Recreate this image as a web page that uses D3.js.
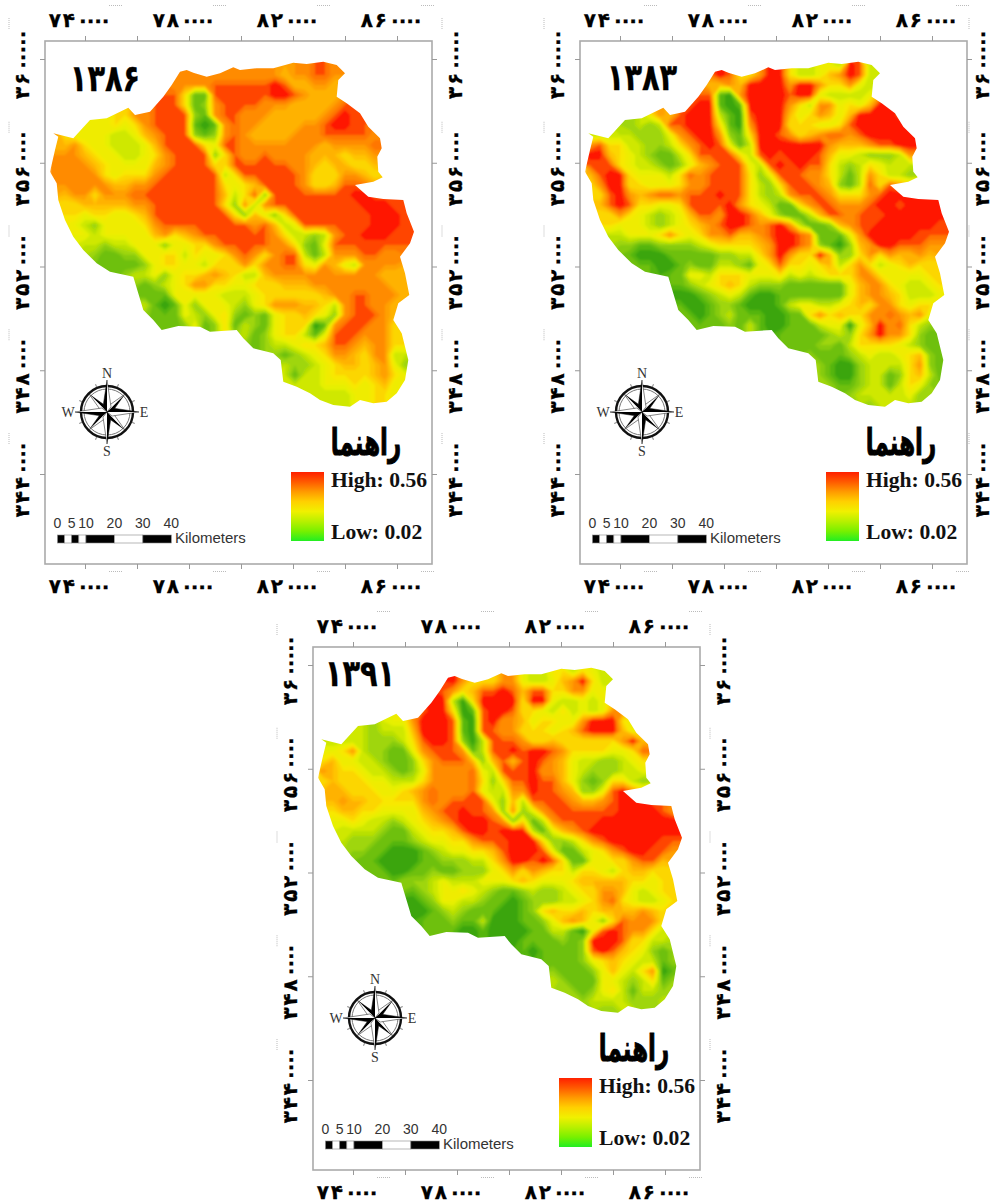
<!DOCTYPE html>
<html lang="en">
<head>
<meta charset="utf-8">
<title>Basin maps 1383 1386 1391</title>
<script src="https://d3js.org/d3.v7.min.js"></script>
<style>
    html, body { margin: 0; padding: 0; background: #fff; }
    svg { display: block; overflow: hidden; }
    .num { font-family: 'DejaVu Sans', sans-serif; font-weight: bold; fill: #000; stroke: #000; stroke-width: 0.3px; }
    .legendText { font-family: 'Liberation Serif', serif; font-weight: bold; font-size: 21.6px; fill: #111; }
    .compassText { font-family: 'Liberation Serif', serif; font-size: 14px; fill: #333; }
    .scaleText { font-family: 'Liberation Sans', sans-serif; font-size: 14px; fill: #333; }
    .tick line { stroke: #999; }
</style>
</head>
<body>
<svg id="maps" width="995" height="1202"></svg>
<script>
    // Axis values and labels (same on all three maps)
    const xTicks = [740000, 760000, 780000, 800000, 820000, 840000, 860000];
    const xLabelValues = [740000, 780000, 820000, 860000];
    const xLabels = ['۷۴۰۰۰۰', '۷۸۰۰۰۰', '۸۲۰۰۰۰', '۸۶۰۰۰۰'];
    const yTicks = [3600000, 3560000, 3520000, 3480000, 3440000];
    const yLabels = ['۳۶۰۰۰۰۰', '۳۵۶۰۰۰۰', '۳۵۲۰۰۰۰', '۳۴۸۰۰۰۰', '۳۴۴۰۰۰۰'];

    // Legend
    const legendTitle = 'راهنما';
    const legendHigh = 'High: 0.56';
    const legendLow = 'Low: 0.02';
    const legendStops = ['#ff2000', '#ff5a00', '#ff9a00', '#ffd000', '#f0f000', '#b8f000', '#78f000', '#22ee22'];

    // Scale bar, km
    const barKm = [0, 2.5, 5, 7.5, 10, 20, 30, 40];
    const barLabels = [0, 5, 10, 20, 30, 40];

    // Raster colour ramp, class 0 (low) to class 9 (high)
    const rampColors = ['#3aa510', '#55b50e', '#86cb0c', '#b8e006', '#e6f000', '#f8e800',
                        '#ffc400', '#ffa000', '#ff7600', '#ff1400'];

    // Which grid columns of every grid row carry a value
    const basinRows = [
        [24,28],[13,28],[12,28],[11,28],[10,30],[7,31],[4,31],[0,32],[0,32],[0,32],[0,32],[0,32],
        [0,30],[1,33],[1,35],[1,35],[2,35],[2,35],[3,35],[4,34],[5,34],[8,35],[9,35],[9,35],
        [9,34],[10,34],[11,34],[19,34],[20,35],[22,35],[23,35],[23,35],[24,34],[26,34],[28,33]
    ];

    // Basin border in grid units (column, row)
    const basinBorder = [
        [13,1.17],[13.67,1],[14.33,1.27],[15.67,1.67],[17,1.33],[18.33,0.73],[19,1],[20.67,0.83],[22.33,0.83],
        [24.33,0.27],[25.67,0.4],[27.33,0.17],[28.67,0.5],[29.5,1.33],[28.83,2],[28.67,3.67],[29.67,4.33],
        [31,5.33],[31.83,6.67],[33,7.83],[33.17,8.83],[32.73,9.67],[32.83,11.17],[33.27,11.73],[32.33,12.17],
        [30.5,12.5],[31.83,13.67],[33.33,13.9],[35.33,14],[35.67,15.33],[36.4,17.17],[36,18.33],[35,19.67],
        [35.5,21.33],[35.93,23.5],[34.83,24.33],[34.33,26],[35.17,27.33],[35.83,30],[35.5,32],[34.67,33.33],
        [33.67,34.17],[32.33,34.33],[31,34],[30,34.67],[28.33,34.5],[27,34],[26,33.33],[24.67,32.67],
        [23.33,32.17],[23.07,30],[22.33,29.33],[20.33,28.83],[19.33,27.83],[18.67,27],[16,27.17],[15,26.67],
        [12.83,26.6],[11.17,27],[10.33,26],[9.33,25],[8.33,21.67],[6,21.17],[4.67,20.33],[3.33,19],
        [2.33,17.67],[1.5,16],[0.83,14],[0.67,12.33],[0,11.17],[0.5,9],[0.83,7.67],[0.33,7.33],[2.33,7.83],
        [4,6],[5.67,5.83],[7.83,4.77],[8.5,5.5],[10,5.17],[11.33,3.67],[12.17,2.5]
    ];

    // Raster classes, one string per grid row
    const values1386 = [
        "77887",
        "7777777777677887",
        "77778888889866776",
        "885118888889987666",
        "888512788887776666788",
        "5778888217887776666678988",
        "4454578888101787766667789988",
        "754444334678882127876666777888887",
        "667544333468888548877777777677778",
        "777654433457888825877877776665667",
        "777765444467888855888888776566556",
        "777775455578888883588888875557765",
        "7777776677888888854568888755688",
        "677577788888888863582888888889988",
        "55666667788888885273788888888899988",
        "55455445688888888526425888888889998",
        "4324444578888888887863488888889998",
        "4434444467567888888875332378899988",
        "332334442445578888877521488888888",
        "2112244553544578757883137778877",
        "111124554435557577885476437777",
        "3342455676533677777777777666",
        "123457755445556667777777766",
        "111444443334555555677887776",
        "31014244432457776653788776",
        "1114324521214556542788876",
        "112412513214555017888775",
        "3124553148887775",
        "1233455688767755",
        "21234577657733",
        "3223456656742",
        "3133455556754",
        "33344454564",
        "333344554",
        "334455"
    ];
    const values1383 = [
        "43983",
        "9855799533467983",
        "66769999799755743",
        "881079999899433334",
        "899101999975377454699",
        "7689993108999645764699998",
        "2323889995107999555445899999",
        "333332224789972159987567887899999",
        "785533223578984139999999766678899",
        "996543211358888538989998644322237",
        "888543321246788843898988532354333",
        "689954443587888852488877531375332",
        "5799554445778888532588876213858",
        "589767887888988532378887555789999",
        "68985544588889754311578877789989999",
        "55754323468879986421136887888999999",
        "5444323456789987897311267889999998",
        "3344457545778667899871114799999888",
        "221122223455556799872102679988877",
        "1000111112233579755962257576676",
        "110012113321458554563575345655",
        "1144355544453434555775444455",
        "123456532221111114677543345",
        "001234310011111114677653334",
        "10012210001344334565775455",
        "1012311100115756557787674",
        "111213100111344046978532",
        "1111123257977521",
        "1112213555543211",
        "21112343345621",
        "2100233335721",
        "2100233125631",
        "21123313542",
        "233333422",
        "233332"
    ];
    const values1391 = [
        "53543",
        "9755577433467953",
        "87568898688557744",
        "993059999599433434",
        "899501899855435343477",
        "4479998108977645544799954",
        "3233369998108877555456899964",
        "333332223589982038887556555555796",
        "445732211478887138898998755554458",
        "564433211257888626868987643322345",
        "765543321247777843888977643222334",
        "565554433357777852588988642125532",
        "6665554456787778433779887622489",
        "676655555787888842638888766789998",
        "56655444467889887272478888888999987",
        "44543323456789998725137888899999999",
        "3333211345568998999314678999999999",
        "3222111234455788899952235789999988",
        "221100012344556899984113457899887",
        "1100001122233579989851144557886",
        "110011211222457576553554356655",
        "2223433344456544456666655455",
        "123445432112322345577643455",
        "012443321101222334578543345",
        "00123211100125655656666765",
        "1112113000112467642587775",
        "111001000011331048987753",
        "0111121299985533",
        "1011112898654212",
        "11112456543312",
        "2111246435701",
        "3211144323512",
        "22124531332",
        "233332223",
        "223322"
    ];

    // Layout of one map panel, other panels are only shifted
    const PANEL = { left: 45, top: 41, right: 432, bottom: 564 };
    const CELL = 10, COLS = 37, ROWS = 35;
    const GRID_X = 50, GRID_Y = 60;
    const DIGIT_STEP = 14, ZERO_STEP = 7.6;

    const svg = d3.select('#maps');
    const defs = svg.append('defs');

    const x = d3.scaleLinear().domain([740000, 860000]).range([85, 397]);
    const y = d3.scaleLinear().domain([3600000, 3440000]).range([59, 474]);
    const barX = d3.scaleLinear().domain([0, 40]).range([57.5, 171.3]);
    const colX = d3.scaleLinear().domain([0, COLS]).range([GRID_X, GRID_X + COLS * CELL]);
    const rowY = d3.scaleLinear().domain([0, ROWS]).range([GRID_Y, GRID_Y + ROWS * CELL]);
    const color = d3.scaleLinear().domain(d3.range(10)).range(rampColors);

    const grad = defs.append('linearGradient').attr('id', 'ramp')
        .attr('x1', 0).attr('y1', 0).attr('x2', 0).attr('y2', 1);
    legendStops.forEach((c, i) => {
        grad.append('stop').attr('offset', i / (legendStops.length - 1)).attr('stop-color', c);
    });

    // border clip shared by all three rasters
    defs.append('clipPath').attr('id', 'basin').append('path')
        .attr('d', d3.line().x(d => colX(d[0])).y(d => rowY(d[1])).curve(d3.curveLinearClosed)(basinBorder));

    // slight softening, the source raster is a blurry scan
    defs.append('filter').attr('id', 'soft')
        .attr('filterUnits', 'userSpaceOnUse')
        .attr('x', 0).attr('y', 0).attr('width', 1000).attr('height', 1000)
        .append('feGaussianBlur').attr('stdDeviation', 1.2);

    // rows of digit strings to a flat grid, outside the basin is NaN
    function toGrid(values) {
        const grid = new Array(COLS * ROWS).fill(NaN);
        basinRows.forEach((r, j) => {
            const s = values[j];
            for (let i = r[0]; i <= r[1]; i++) {
                const k = Math.min(i - r[0], s.length - 1);
                grid[j * COLS + i] = +s[k];
            }
        });
        return grid;
    }

    // spread inside values outwards so the bands don't pile up on the border
    function fillOutside(grid) {
        const g = grid.slice();
        let open = true;
        while (open) {
            open = false;
            const prev = g.slice();
            for (let j = 0; j < ROWS; j++) {
                for (let i = 0; i < COLS; i++) {
                    if (!isNaN(prev[j * COLS + i])) continue;
                    const near = [];
                    if (i > 0) near.push(prev[j * COLS + i - 1]);
                    if (i < COLS - 1) near.push(prev[j * COLS + i + 1]);
                    if (j > 0) near.push(prev[(j - 1) * COLS + i]);
                    if (j < ROWS - 1) near.push(prev[(j + 1) * COLS + i]);
                    const m = d3.mean(near.filter(v => !isNaN(v)));
                    if (m === undefined) open = true;
                    else g[j * COLS + i] = m;
                }
            }
        }
        return g;
    }

    function drawRaster(panel, values) {
        const path = d3.geoPath();
        const levels = d3.range(0.5, 9, 0.5);
        const bands = d3.contours().size([COLS, ROWS]).thresholds(levels)(fillOutside(toGrid(values)));

        const g = panel.append('g').attr('clip-path', 'url(#basin)')
            .append('g').attr('filter', 'url(#soft)')
            .append('g').attr('transform', `translate(${GRID_X},${GRID_Y}) scale(${CELL})`);
        g.append('rect').attr('width', COLS).attr('height', ROWS).attr('fill', color(0));
        g.selectAll('path').data(bands).join('path')
            .attr('d', path)
            .attr('fill', d => color(d.value + 0.5));
    }

    // the zeros are just dots in the source, so they sit much closer than the other digits.
    // letter-spacing came out uneven, so every glyph gets its own x
    function glyphX(label) {
        let pos = 0;
        const xs = Array.from(label).map(ch => {
            const at = pos;
            pos += ch === '۰' ? ZERO_STEP : DIGIT_STEP;
            return at;
        });
        return xs.map(v => (v - pos / 2).toFixed(1)).join(' ');
    }

    function drawAxes(panel, dx) {
        panel.append('rect')
            .attr('x', PANEL.left).attr('y', PANEL.top)
            .attr('width', PANEL.right - PANEL.left).attr('height', PANEL.bottom - PANEL.top)
            .attr('fill', '#fff').attr('stroke', '#aaa').attr('stroke-width', 1.6);

        const axes = [
            [d3.axisTop(x).tickValues(xTicks), `translate(0,${PANEL.top})`],
            [d3.axisBottom(x).tickValues(xTicks), `translate(0,${PANEL.bottom})`],
            [d3.axisLeft(y).tickValues(yTicks), `translate(${PANEL.left},0)`],
            [d3.axisRight(y).tickValues(yTicks), `translate(${PANEL.right},0)`]
        ];
        axes.forEach(a => {
            const g = panel.append('g').attr('transform', a[1])
                .call(a[0].tickSize(5).tickFormat(''));
            g.select('.domain').remove();
        });

        // top and bottom labels plus the tiny marks next to them
        [20, 586].forEach(ly => {
            panel.selectAll(null).data(xLabelValues).join('text')
                .attr('class', 'num').attr('font-size', 20)
                .attr('transform', d => `translate(${x(d) - 7},${ly})`)
                .attr('x', (d, i) => glyphX(xLabels[i])).attr('dy', '0.36em')
                .text((d, i) => xLabels[i]);
            panel.selectAll(null).data(xLabelValues).join('line')
                .attr('x1', d => x(d) + 24).attr('x2', d => x(d) + 37)
                .attr('y1', ly - 14.5).attr('y2', ly - 14.5)
                .attr('stroke', '#bbb').attr('stroke-dasharray', '1 1');
        });
        // left and right labels, kept inside the picture on the right hand panel
        [22, Math.min(455, 995 - dx - 13)].forEach(lx => {
            panel.selectAll(null).data(yTicks).join('text')
                .attr('class', 'num').attr('font-size', 20)
                .attr('transform', d => `translate(${lx},${y(d) + 7}) rotate(-90)`)
                .attr('x', (d, i) => glyphX(yLabels[i])).attr('dy', '0.36em')
                .text((d, i) => yLabels[i]);
            panel.selectAll(null).data(yTicks).join('line')
                .attr('x1', lx - 13).attr('x2', lx - 13)
                .attr('y1', d => y(d) - 41).attr('y2', d => y(d) - 29)
                .attr('stroke', '#bbb').attr('stroke-dasharray', '1 1');
        });
    }

    function drawCompass(panel) {
        const cx = 107, cy = 412;
        const g = panel.append('g').attr('transform', `translate(${cx},${cy})`);
        g.append('circle').attr('r', 26).attr('fill', '#fff').attr('stroke', '#111').attr('stroke-width', 2.4);
        g.append('circle').attr('r', 23).attr('fill', 'none').attr('stroke', '#777').attr('stroke-width', 1);
        // small ticks on the ring
        d3.range(22.5, 360, 45).forEach(a => {
            g.append('line').attr('y1', -27).attr('y2', -30)
                .attr('stroke', '#888').attr('transform', `rotate(${a})`);
        });
        const point = (a, len, w, fill, side) => {
            g.append('path')
                .attr('d', d3.line()([[0, 0], [side * w, -w * 1.3], [0, -len]]))
                .attr('fill', fill).attr('stroke', '#111').attr('stroke-width', 0.5)
                .attr('transform', `rotate(${a})`);
        };
        [45, 135, 225, 315].forEach(a => {
            point(a, 25, 3.5, '#000', 1);
            point(a, 25, 3.5, '#fff', -1);
        });
        [0, 90, 180, 270].forEach(a => {
            point(a, 32, 4, '#000', -1);
            point(a, 32, 4, '#fff', 1);
        });
        const letters = [['N', 0, -34], ['S', 0, 44], ['W', -39, 5], ['E', 37, 5]];
        letters.forEach(l => {
            g.append('text').attr('class', 'compassText').attr('text-anchor', 'middle')
                .attr('x', l[1]).attr('y', l[2]).text(l[0]);
        });
    }

    function drawScaleBar(panel) {
        const top = 535, h = 8;
        panel.selectAll(null).data(d3.pairs(barKm)).join('rect')
            .attr('x', d => barX(d[0])).attr('y', top)
            .attr('width', d => barX(d[1]) - barX(d[0])).attr('height', h)
            .attr('fill', (d, i) => i % 2 ? '#fff' : '#000')
            .attr('stroke', '#888').attr('stroke-width', 0.6);
        panel.selectAll(null).data(barLabels).join('text')
            .attr('class', 'scaleText').attr('text-anchor', 'middle')
            .attr('x', d => barX(d)).attr('y', 528).text(d => d);
        panel.append('text').attr('class', 'scaleText')
            .attr('x', 175).attr('y', 543).style('font-size', '15px')
            .text('Kilometers');
    }

    function drawLegend(panel) {
        panel.append('text').attr('class', 'num').attr('font-size', 37)
            .attr('text-anchor', 'middle').style('stroke-width', '1px')
            .attr('transform', 'translate(366,455) scale(0.62,1)')
            .text(legendTitle);
        panel.append('rect').attr('x', 291).attr('y', 472)
            .attr('width', 33).attr('height', 69).attr('fill', 'url(#ramp)');
        panel.append('text').attr('class', 'legendText').attr('x', 331).attr('y', 487).text(legendHigh);
        panel.append('text').attr('class', 'legendText').attr('x', 331).attr('y', 539).text(legendLow);
    }

    function drawPanel(dx, dy, year, yearX, yearY, values) {
        const panel = svg.append('g').attr('transform', `translate(${dx},${dy})`);
        drawAxes(panel, dx);
        drawRaster(panel, values);
        panel.append('text').attr('class', 'num').attr('font-size', 37)
            .attr('letter-spacing', -4)
            .attr('text-anchor', 'middle')
            .attr('transform', `translate(${yearX},${yearY}) scale(0.78,1)`).attr('dy', '0.36em')
            .text(year);
        drawCompass(panel);
        drawScaleBar(panel);
        drawLegend(panel);
    }

    drawPanel(0, 0, '۱۳۸۶', 105, 78, values1386);
    drawPanel(535, 0, '۱۳۸۳', 107, 77, values1383);
    drawPanel(268, 606, '۱۳۹۱', 92, 67, values1391);
</script>
</body>
</html>
